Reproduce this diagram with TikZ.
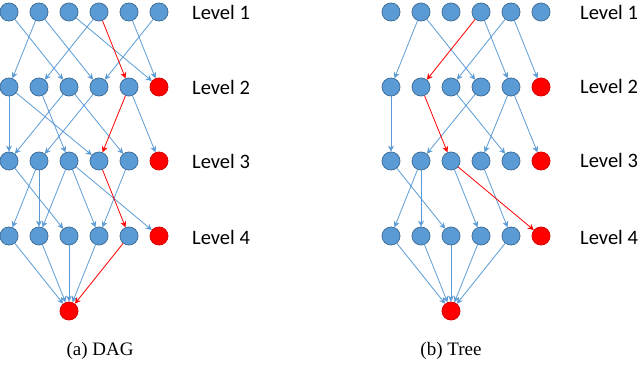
\documentclass[tikz,border=0pt]{standalone}
\usepackage{fontspec}
\setmainfont{Liberation Serif}
\newfontfamily\labfont{Carlito}
\usetikzlibrary{arrows.meta}
\definecolor{nb}{HTML}{5B9BD5}
\definecolor{nbd}{HTML}{41719C}
\definecolor{nr}{HTML}{FF0000}
\begin{document}
\begin{tikzpicture}[x=1pt,y=-1pt,
 bn/.style={circle,fill=nb,draw=nbd,line width=0.8pt,minimum size=18pt,inner sep=0pt},
 rn/.style={circle,fill=nr,draw=nr!85!black,line width=0.8pt,minimum size=18pt,inner sep=0pt},
 be/.style={draw=nb,line width=0.8pt,-{Stealth[length=6pt,width=6pt]}},
 re/.style={draw=nr,line width=0.8pt,-{Stealth[length=6pt,width=6pt]}},
 lv/.style={font=\labfont\fontsize{20.5}{24}\selectfont,anchor=west,inner sep=0pt},
 capt/.style={font=\fontsize{19}{23}\selectfont,inner sep=0pt}]
\useasboundingbox (0,0) rectangle (640,369);
% nodes
\foreach \l/\y in {1/12,2/87,3/161,4/236}{
  \foreach \i in {1,...,6}{
    \pgfmathsetmacro{\xd}{9+30*(\i-1)}
    \pgfmathsetmacro{\xt}{391+30*(\i-1)}
    \ifnum\l>1 \ifnum\i=6
      \node[rn] (d\l\i) at (\xd,\y) {};
      \node[rn] (t\l\i) at (\xt,\y) {};
    \else
      \node[bn] (d\l\i) at (\xd,\y) {};
      \node[bn] (t\l\i) at (\xt,\y) {};
    \fi\else
      \node[bn] (d\l\i) at (\xd,\y) {};
      \node[bn] (t\l\i) at (\xt,\y) {};
    \fi
  }
}
\node[rn] (d5) at (69,311) {};
\node[rn] (t5) at (451,311) {};
% labels
\node[lv] (dl1) at (192,12) {Level 1};
\node[lv] (dl2) at (192,87) {Level 2};
\node[lv] (dl3) at (192,161) {Level 3};
\node[lv] (dl4) at (192,237) {Level 4};
\node[lv] (tl1) at (580,12) {Level 1};
\node[lv] (tl2) at (580,86) {Level 2};
\node[lv] (tl3) at (580,160) {Level 3};
\node[lv] (tl4) at (580,237) {Level 4};
\node[capt] (ca) at (100,351) {(a) DAG};
\node[capt] (cb) at (451,351) {(b) Tree};
% DAG edges
\foreach \a/\b in {11/23,12/21,12/24,13/26,14/22,15/26,16/24,
                   21/31,21/34,22/33,23/31,23/35,24/32,25/36,
                   31/43,32/41,32/42,33/42,33/44,33/46,35/44}
  \draw[be] (d\a) -- (d\b);
\foreach \a in {41,42,43,44} \draw[be] (d\a) -- (d5);
\draw[re] (d14) -- (d25);
\draw[re] (d25) -- (d34);
\draw[re] (d34) -- (d45);
\draw[re] (d45) -- (d5);
% Tree edges
\foreach \a/\b in {12/21,12/24,14/25,15/23,15/26,
                   21/31,23/35,24/32,25/34,25/36,
                   31/43,32/41,32/42,33/44,34/45}
  \draw[be] (t\a) -- (t\b);
\foreach \a in {41,42,43,44,45} \draw[be] (t\a) -- (t5);
\draw[re] (t14) -- (t22);
\draw[re] (t22) -- (t33);
\draw[re] (t33) -- (t46);
\end{tikzpicture}
\end{document}
